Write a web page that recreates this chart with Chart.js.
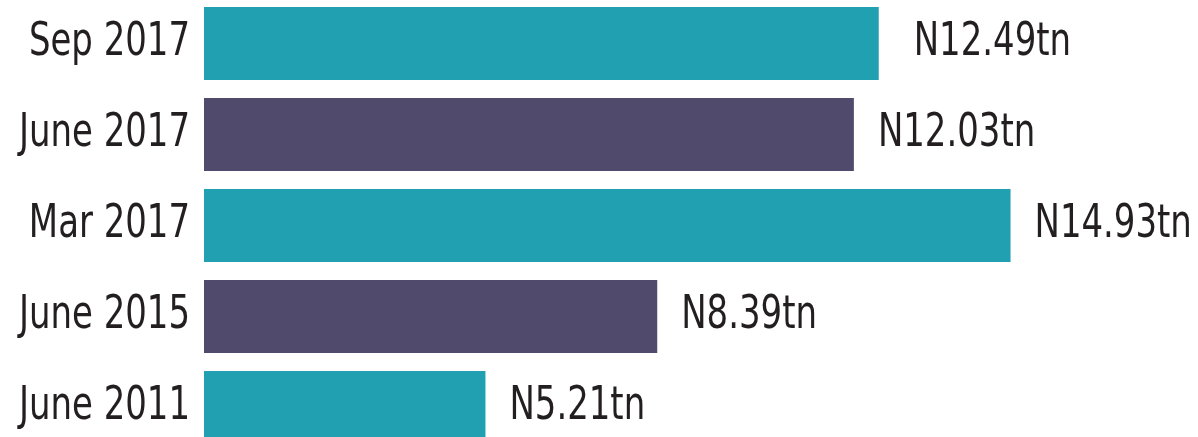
<!DOCTYPE html>
<html>
<head>
<meta charset="utf-8">
<script src="https://cdn.jsdelivr.net/npm/chart.js@4"></script>
<style>
  html, body { margin: 0; padding: 0; background: #fff; overflow: hidden; }
  .wrap { position: relative; width: 1198px; height: 455px; margin-top: -2px; }
</style>
</head>
<body>
<div class="wrap"><canvas id="myChart"></canvas></div>
<script>
const periods = ["Sep 2017", "June 2017", "Mar 2017", "June 2015", "June 2011"];
const amounts = [12.49, 12.03, 14.93, 8.39, 5.21];
const amountLabels = ["N12.49tn", "N12.03tn", "N14.93tn", "N8.39tn", "N5.21tn"];
const barColors = ["#21a0b2", "#504a6c", "#21a0b2", "#504a6c", "#21a0b2"];

const textColor = "#231f20";
const fontFamily = "'DejaVu Sans Condensed', 'DejaVu Sans', sans-serif";
const squeeze = 0.82; // no condensed face like the original, so narrow the glyphs

const drawNarrow = (ctx, text, x, y, align) => {
  ctx.save();
  ctx.translate(x, y);
  ctx.scale(squeeze, 1);
  ctx.textAlign = align;
  ctx.fillText(text, 0, 0);
  ctx.restore();
};

// category names on the left and amounts past the end of each bar
const textLabels = {
  id: "textLabels",
  afterDatasetsDraw(chart) {
    const ctx = chart.ctx;
    const yScale = chart.scales.y;
    const meta = chart.getDatasetMeta(0);
    ctx.save();
    ctx.font = "46px " + fontFamily;
    ctx.fillStyle = textColor;
    ctx.textBaseline = "middle";
    periods.forEach((p, i) => {
      drawNarrow(ctx, p, yScale.right - 14, yScale.getPixelForValue(i), "right");
    });
    meta.data.forEach((bar, i) => {
      const gap = i === 0 ? 35 : 24;
      drawNarrow(ctx, amountLabels[i], bar.x + gap, bar.y, "left");
    });
    ctx.restore();
  },
};

const ctx = document.getElementById("myChart");
new Chart(ctx, {
  type: "bar",
  data: {
    labels: periods,
    datasets: [
      {
        data: amounts,
        backgroundColor: barColors,
        borderWidth: 0,
        categoryPercentage: 0.8,
        barPercentage: 1,
      },
    ],
  },
  options: {
    indexAxis: "y",
    responsive: true,
    maintainAspectRatio: false,
    animation: false,
    layout: { padding: 0 },
    plugins: {
      legend: { display: false },
      tooltip: { enabled: false },
    },
    scales: {
      x: {
        display: false,
        min: 0,
        max: 18.4,
      },
      y: {
        grid: { display: false, drawTicks: false },
        border: { display: false },
        ticks: { display: false },
        afterFit(scale) {
          scale.width = 204;
          scale.paddingTop = 0;
          scale.paddingBottom = 0;
        },
      },
    },
  },
  plugins: [textLabels],
});
</script>
</body>
</html>
